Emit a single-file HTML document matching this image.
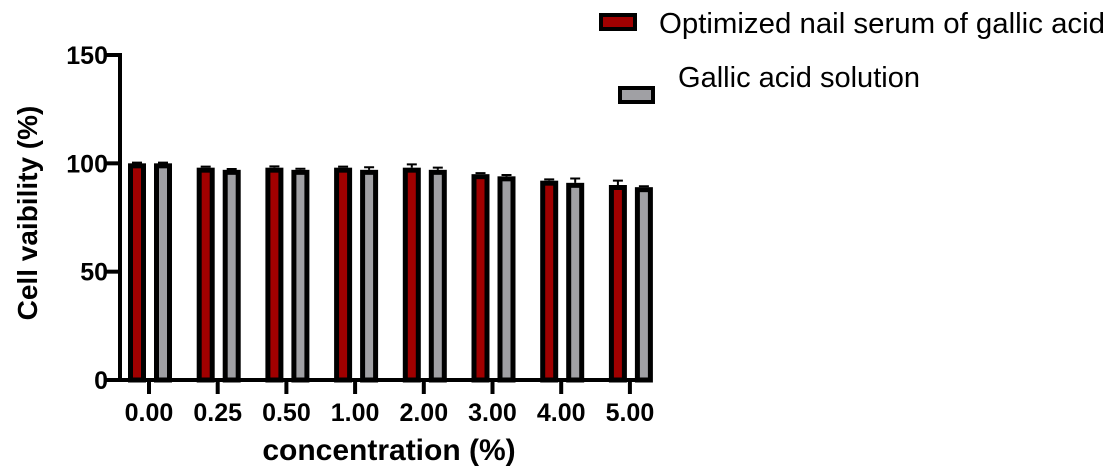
<!DOCTYPE html>
<html><head><meta charset="utf-8"><style>
body{margin:0;background:#fff;width:1112px;height:467px;overflow:hidden}
svg text{font-family:"Liberation Sans",Arial,sans-serif}
</style></head><body>
<svg id="chart" width="1112" height="467" xmlns="http://www.w3.org/2000/svg">
<g id="axes"></g><g id="bars"></g>
<g>
<rect x="601" y="15" width="34" height="14" fill="#a00000" stroke="#000" stroke-width="4"/>
<text x="659" y="33" font-size="29" textLength="446" lengthAdjust="spacingAndGlyphs">Optimized nail serum of gallic acid</text>
<rect x="620" y="88" width="33" height="14" fill="#a0a0a4" stroke="#000" stroke-width="4"/>
<text x="678" y="87" font-size="29" textLength="242" lengthAdjust="spacingAndGlyphs">Gallic acid solution</text>
</g>
<text transform="translate(37,213) rotate(-90)" text-anchor="middle" font-size="28" font-weight="bold">Cell vaibility (%)</text>
<text x="389" y="460" text-anchor="middle" font-size="30" font-weight="bold">concentration (%)</text>
</svg>
<script>
const categories=["0.00","0.25","0.50","1.00","2.00","3.00","4.00","5.00"];
const serumValues=[100,98,98,98,98,95,92,90];
const serumErrors=[0.3,0.5,0.6,0.5,1.5,0.5,0.6,2];
const solutionValues=[100,97,97,97,97,94,91,89];
const solutionErrors=[0.3,0.4,0.5,1.2,1,0.6,2,0.4];
const yTicks=[0,50,100,150];
const NS="http://www.w3.org/2000/svg";
const y=v=>380-v*(325/150);
const x=i=>149+i*68.7;
function mk(tag,attrs,parent){const e=document.createElementNS(NS,tag);for(const k in attrs)e.setAttribute(k,attrs[k]);parent.appendChild(e);return e;}
const ax=document.getElementById('axes'),bg=document.getElementById('bars');
let l=mk('line',{x1:120,y1:y(150)-2,x2:120,y2:382,stroke:'#000','stroke-width':4},ax);


l=mk('line',{x1:118,y1:380,x2:650,y2:380,stroke:'#000','stroke-width':4},ax);


yTicks.forEach(t=>{
 const tk=mk('line',{x1:104,y1:y(t),x2:120,y2:y(t),stroke:'#000','stroke-width':4},ax);
 
 
 const tx=mk('text',{x:108,y:y(t)+9,'text-anchor':'end','font-size':25,'font-weight':'bold'},ax);
 tx.textContent=t;
 
 
});
categories.forEach((c,i)=>{
 const cx=x(i);
 const tk=mk('line',{x1:cx,y1:380,x2:cx,y2:394,stroke:'#000','stroke-width':4},ax);
 
 
 const tx=mk('text',{x:cx,y:421,'text-anchor':'middle','font-size':25,'font-weight':'bold'},ax);
 tx.textContent=c;
 
 
 [[serumValues,serumErrors,-21,'#a00000','bar-serum'],[solutionValues,solutionErrors,5,'#a0a0a4','bar-solution']].forEach(([vals,errs,off,col,name])=>{
  const v=vals[i],e=errs[i],bx=cx+off;
  const eb=mk('path',{d:`M${bx+9} ${y(v)} V${y(v+e)} M${bx+4} ${y(v+e)} H${bx+14}`,stroke:'#000','stroke-width':2,fill:'none'},bg);
  
  
  const r=mk('rect',{x:bx+2.5,y:y(v)+2.5,width:13,height:380-y(v)-2.5,fill:col,stroke:'#000','stroke-width':5},bg);
  
  
 });
});
</script>
</body></html>
